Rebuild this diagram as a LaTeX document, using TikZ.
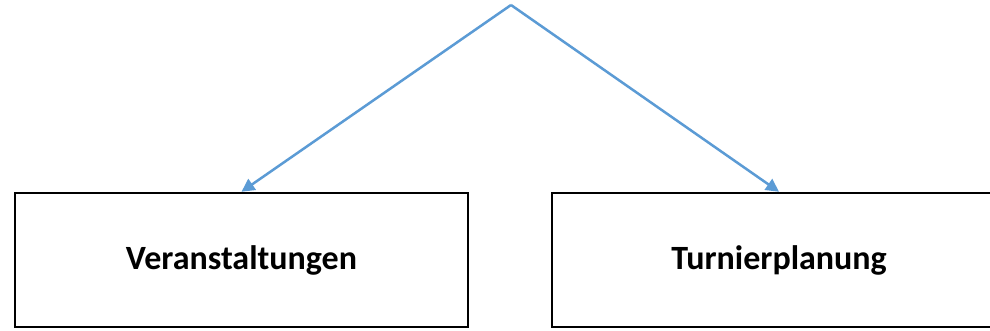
\documentclass[tikz,border=0pt]{standalone}
\usepackage{fontspec}
\setmainfont{Carlito}
\usetikzlibrary{arrows.meta}
\definecolor{arrowblue}{HTML}{5B9BD5}
\newcommand{\boxtext}[1]{\raisebox{-3pt}{#1}}
\tikzset{
  boxnode/.style={draw=black, line width=2.5pt, minimum width=453pt, minimum height=134pt, inner sep=0pt, font=\bfseries\fontsize{34}{40}\selectfont},
  conn/.style={draw=arrowblue, line width=2.5pt, -{Triangle[length=13pt,width=13pt]}}
}
\begin{document}
\begin{tikzpicture}[x=1pt,y=1pt]
\useasboundingbox (0,0) rectangle (990,330);
\fill[white] (0,0) rectangle (990,330);
\coordinate (apex) at (511,325);
\node[boxnode] (ver) at (241.5,70) {\boxtext{Veranstaltungen}};
\node[boxnode, minimum width=454pt] (tur) at (779,70) {\boxtext{Turnierplanung}};
\draw[conn] (apex) -- (ver.north);
\draw[conn] (apex) -- (tur.north);
\end{tikzpicture}
\end{document}
